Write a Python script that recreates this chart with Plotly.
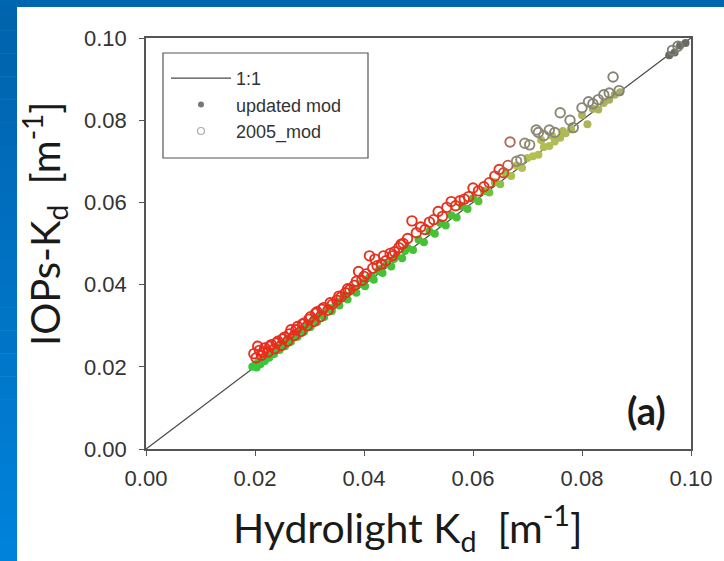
import plotly.graph_objects as go

# ---------------- data ----------------
line_x = [0.0, 0.1]
line_y = [0.0, 0.1]

upd_x = [0.0195, 0.0200, 0.0203, 0.0207, 0.0210, 0.0214, 0.0218, 0.0222, 0.0226, 0.0230,
         0.0235, 0.0240, 0.0245, 0.0250, 0.0255, 0.0260, 0.0266, 0.0272, 0.0278, 0.0284,
         0.0290, 0.0296, 0.0302, 0.0308, 0.0314, 0.0320, 0.0327, 0.0334, 0.0341, 0.0348,
         0.0355, 0.0362, 0.0370, 0.0378, 0.0386, 0.0394, 0.0402, 0.0410, 0.0418, 0.0426,
         0.0434, 0.0442, 0.0450, 0.0460, 0.0470, 0.0480, 0.0490, 0.0500, 0.0510, 0.0520,
         0.0530, 0.0540, 0.0550, 0.0560, 0.0570, 0.0580, 0.0590, 0.0600, 0.0610, 0.0620,
         0.0630, 0.0640, 0.0650, 0.0660, 0.0670, 0.0680, 0.0690, 0.0700, 0.0710, 0.0720,
         0.0730, 0.0740, 0.0750, 0.0760, 0.0770, 0.0780, 0.0800, 0.0810, 0.0820, 0.0830,
         0.0840, 0.0850, 0.0860, 0.0870, 0.0960, 0.0970, 0.0980, 0.0990,
         0.0205, 0.0216, 0.0228, 0.0238, 0.0252, 0.0263, 0.0275, 0.0287, 0.0299, 0.0311,
         0.0323, 0.0337, 0.0352, 0.0366, 0.0382, 0.0398, 0.0414, 0.0430, 0.0455, 0.0475,
         0.0725, 0.0745, 0.0765]
upd_y = [0.0200, 0.0205, 0.0198, 0.0212, 0.0206, 0.0219, 0.0214, 0.0228, 0.0222, 0.0236,
         0.0231, 0.0246, 0.0241, 0.0256, 0.0250, 0.0266, 0.0261, 0.0279, 0.0273, 0.0291,
         0.0285, 0.0303, 0.0297, 0.0316, 0.0309, 0.0327, 0.0321, 0.0341, 0.0336, 0.0356,
         0.0349, 0.0370, 0.0364, 0.0386, 0.0380, 0.0402, 0.0396, 0.0418, 0.0412, 0.0434,
         0.0428, 0.0450, 0.0444, 0.0470, 0.0464, 0.0489, 0.0484, 0.0510, 0.0503, 0.0530,
         0.0524, 0.0550, 0.0544, 0.0569, 0.0563, 0.0590, 0.0584, 0.0610, 0.0603, 0.0628,
         0.0624, 0.0649, 0.0644, 0.0670, 0.0664, 0.0690, 0.0684, 0.0708, 0.0712, 0.0716,
         0.0735, 0.0737, 0.0748, 0.0757, 0.0768, 0.0778, 0.0812, 0.0790, 0.0828, 0.0826,
         0.0842, 0.0850, 0.0862, 0.0868, 0.0958, 0.0965, 0.0982, 0.0988,
         0.0209, 0.0222, 0.0232, 0.0240, 0.0257, 0.0268, 0.0280, 0.0292, 0.0304, 0.0318,
         0.0328, 0.0343, 0.0358, 0.0372, 0.0388, 0.0405, 0.0421, 0.0438, 0.0462, 0.0482,
         0.0752, 0.0762, 0.0774]

old_x = [0.0198, 0.0202, 0.0208, 0.0212, 0.0218, 0.0224, 0.0230, 0.0236, 0.0242, 0.0248,
         0.0254, 0.0260, 0.0266, 0.0272, 0.0278, 0.0284, 0.0290, 0.0296, 0.0302, 0.0308,
         0.0314, 0.0320, 0.0326, 0.0334, 0.0342, 0.0350, 0.0358, 0.0366, 0.0374, 0.0382,
         0.0390, 0.0396, 0.0404, 0.0410, 0.0416, 0.0424, 0.0432, 0.0440, 0.0448, 0.0456,
         0.0464, 0.0472, 0.0480, 0.0488, 0.0496, 0.0504, 0.0512, 0.0520, 0.0528, 0.0536,
         0.0544, 0.0552, 0.0560, 0.0568, 0.0576, 0.0584, 0.0592, 0.0600, 0.0610, 0.0620,
         0.0630, 0.0640, 0.0648, 0.0656, 0.0664, 0.0668, 0.0680, 0.0688, 0.0695, 0.0704,
         0.0716, 0.0720, 0.0730, 0.0740, 0.0750, 0.0760, 0.0778, 0.0784, 0.0800, 0.0812,
         0.0820, 0.0830, 0.0840, 0.0850, 0.0857, 0.0868, 0.0966, 0.0976,
         0.0205, 0.0215, 0.0227, 0.0239, 0.0251, 0.0263, 0.0275, 0.0287, 0.0299, 0.0311,
         0.0323, 0.0338, 0.0354, 0.0370, 0.0386, 0.0400, 0.0420, 0.0436, 0.0452, 0.0468]
old_y = [0.0232, 0.0222, 0.0240, 0.0228, 0.0246, 0.0236, 0.0254, 0.0244, 0.0262, 0.0252,
         0.0272, 0.0262, 0.0290, 0.0276, 0.0298, 0.0286, 0.0306, 0.0300, 0.0322, 0.0310,
         0.0334, 0.0322, 0.0344, 0.0338, 0.0352, 0.0362, 0.0370, 0.0380, 0.0388, 0.0398,
         0.0432, 0.0410, 0.0426, 0.0470, 0.0440, 0.0446, 0.0450, 0.0458, 0.0476, 0.0480,
         0.0490, 0.0500, 0.0512, 0.0555, 0.0526, 0.0540, 0.0534, 0.0552, 0.0558, 0.0578,
         0.0566, 0.0588, 0.0602, 0.0592, 0.0604, 0.0608, 0.0614, 0.0635, 0.0628, 0.0638,
         0.0648, 0.0664, 0.0680, 0.0672, 0.0690, 0.0747, 0.0700, 0.0704, 0.0744, 0.0740,
         0.0776, 0.0770, 0.0762, 0.0776, 0.0770, 0.0818, 0.0800, 0.0782, 0.0830, 0.0845,
         0.0840, 0.0850, 0.0862, 0.0866, 0.0905, 0.0872, 0.0970, 0.0980,
         0.0250, 0.0236, 0.0250, 0.0258, 0.0268, 0.0280, 0.0290, 0.0304, 0.0316, 0.0330,
         0.0340, 0.0356, 0.0372, 0.0390, 0.0408, 0.0420, 0.0462, 0.0470, 0.0470, 0.0498]

x_ticks = [0.0, 0.02, 0.04, 0.06, 0.08, 0.10]
y_ticks = [0.0, 0.02, 0.04, 0.06, 0.08, 0.10]
tick_text = ["0.00", "0.02", "0.04", "0.06", "0.08", "0.10"]

# ---------------- geometry helpers (pixel -> paper) ----------------
W, H = 724, 561
L, R, T, B = 146, 691, 38, 449


def px(xp):
    return (xp - L) / (R - L)


def py(yp):
    return (B - yp) / (B - T)


fig = go.Figure()

# legend-only proxies (grey symbols like the original legend)
fig.add_trace(go.Scatter(x=line_x, y=line_y, mode="lines", name="1:1",
                         line=dict(color="#4a4a4a", width=1.3), showlegend=True))
fig.add_trace(go.Scatter(x=[None], y=[None], mode="markers", name="updated mod",
                         marker=dict(symbol="circle", size=6, color="#777777")))
fig.add_trace(go.Scatter(x=[None], y=[None], mode="markers", name="2005_mod",
                         marker=dict(symbol="circle-open", size=7, color="#aaaaaa",
                                     line=dict(width=1.2))))

# data
fig.add_trace(go.Scatter(
    x=upd_x, y=upd_y, mode="markers", showlegend=False, name="updated mod",
    marker=dict(symbol="circle", size=8, color=upd_x, cmin=0.02, cmax=0.1,
                colorscale=[[0, "#35c83a"], [0.5, "#4bbf35"], [0.6, "#b5c24c"],
                            [0.84, "#a9ae62"], [0.9, "#6b6b62"], [1, "#6b6b62"]],
                line=dict(width=0))))
fig.add_trace(go.Scatter(
    x=old_x, y=old_y, mode="markers", showlegend=False, name="2005_mod",
    marker=dict(symbol="circle-open", size=9.5, color=old_x, cmin=0.02, cmax=0.1,
                colorscale=[[0, "#ea2c1c"], [0.56, "#e2341f"], [0.6, "#8f8b76"],
                            [1, "#7d7d74"]],
                line=dict(width=1.9))))

shapes = []
# blue frame: top bar and left gradient bar
shapes.append(dict(type="rect", xref="paper", yref="paper",
                   x0=px(0), x1=px(W), y0=py(7), y1=py(0),
                   fillcolor="#0066b2", line=dict(width=0), layer="below"))
nstrip = 24
for i in range(nstrip):
    t = i / (nstrip - 1)
    g = int(0x63 + t * (0x82 - 0x63))
    b = int(0xae + t * (0xda - 0xae))
    y0p = 7 + i * (H - 7) / nstrip
    y1p = 7 + (i + 1) * (H - 7) / nstrip
    shapes.append(dict(type="rect", xref="paper", yref="paper",
                       x0=px(0), x1=px(17), y0=py(y1p + 0.5), y1=py(y0p),
                       fillcolor="rgb(0,%d,%d)" % (g, b), line=dict(width=0),
                       layer="below"))
# legend box
shapes.append(dict(type="rect", xref="paper", yref="paper",
                   x0=px(163), x1=px(368), y0=py(158), y1=py(53),
                   line=dict(color="#555555", width=1.2), fillcolor="rgba(0,0,0,0)"))

annotations = [
    dict(text="Hydrolight K<sub>d</sub>  [m<sup>-1</sup>]", xref="paper", yref="paper",
         x=px(408), y=py(528), xanchor="center", yanchor="middle", showarrow=False,
         font=dict(family="Lato, Open Sans, sans-serif", size=41, color="#1a1a1a")),
    dict(text="IOPs-K<sub>d</sub>  [m<sup>-1</sup>]", xref="paper", yref="paper",
         x=px(44), y=py(224), xanchor="center", yanchor="middle", showarrow=False,
         textangle=-90,
         font=dict(family="Lato, Open Sans, sans-serif", size=40, color="#1a1a1a")),
    dict(text="<b>(a)</b>", xref="paper", yref="paper",
         x=px(646), y=py(410), xanchor="center", yanchor="middle", showarrow=False,
         font=dict(family="Lato, Open Sans, sans-serif", size=38, color="#1a1a1a")),
]

axis_common = dict(range=[0, 0.1], showgrid=False, zeroline=False, showline=True,
                   linecolor="#555555", linewidth=1.5, mirror=True,
                   ticks="outside", ticklen=5, tickwidth=1.2, tickcolor="#555555",
                   tickfont=dict(family="Arial, Liberation Sans, sans-serif", size=22,
                                 color="#333333"),
                   tickvals=x_ticks, ticktext=tick_text)

fig.update_layout(
    width=W, height=H,
    margin=dict(l=L, r=W - R, t=T, b=H - B),
    paper_bgcolor="white", plot_bgcolor="white",
    xaxis=dict(**axis_common),
    yaxis=dict(**{**axis_common, "tickvals": y_ticks}),
    shapes=shapes, annotations=annotations,
    showlegend=True,
    legend=dict(x=px(166), y=py(60), xanchor="left", yanchor="top",
                bgcolor="rgba(0,0,0,0)", borderwidth=0, itemwidth=60,
                font=dict(family="Arial, Liberation Sans, sans-serif", size=18,
                          color="#333333"),
                tracegroupgap=0),
)
fig.update_xaxes(ticklabelstandoff=4)
fig.update_yaxes(ticklabelstandoff=8)

fig.write_html("out.html")
